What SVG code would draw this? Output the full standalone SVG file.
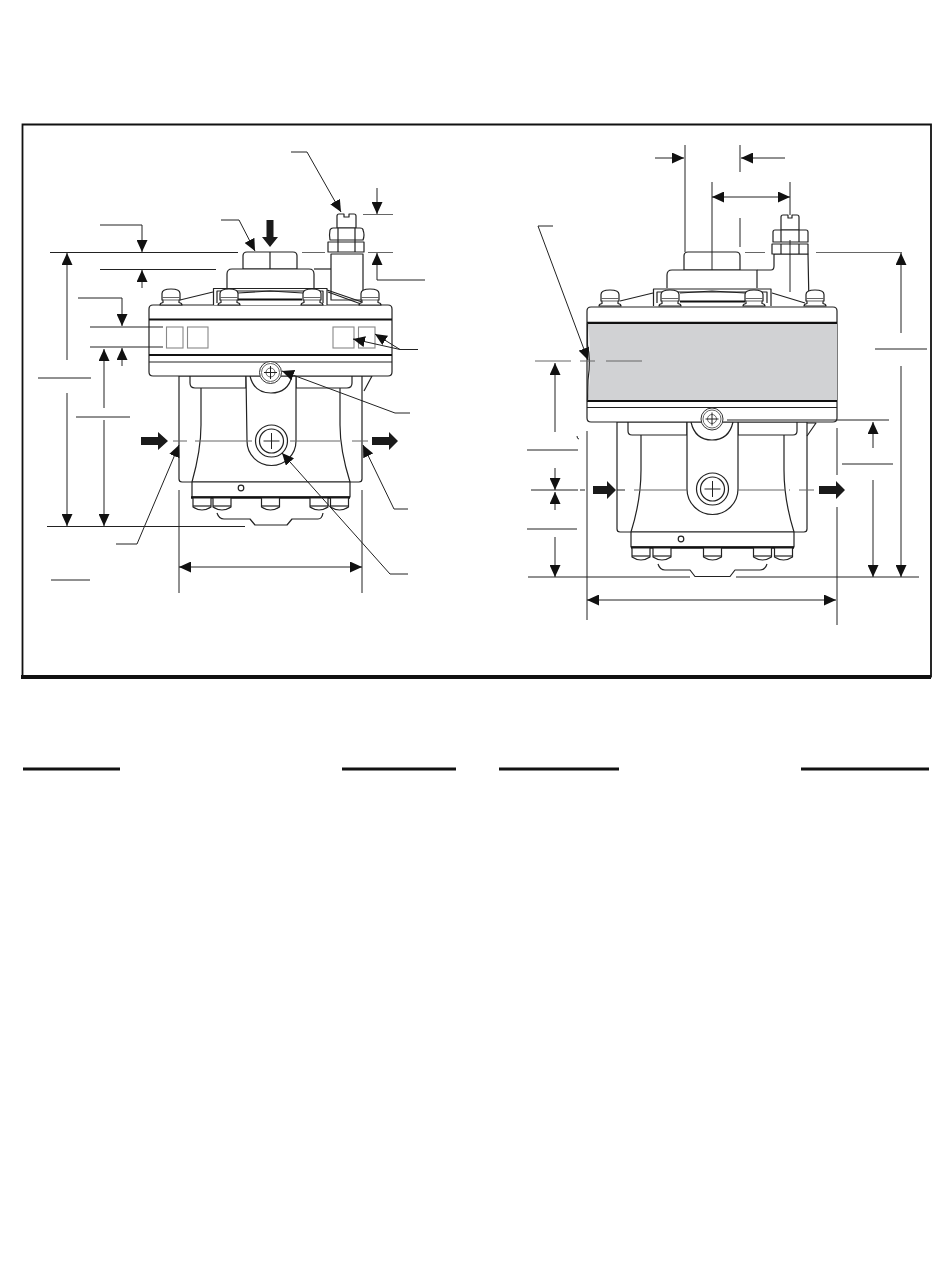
<svg xmlns="http://www.w3.org/2000/svg" width="950" height="1267" viewBox="0 0 950 1267">
<style>
.o{fill:none;stroke:#222;stroke-width:1.2;stroke-linejoin:round}
.w{fill:#fff;stroke:#222;stroke-width:1.2;stroke-linejoin:round}
.t{fill:none;stroke:#111;stroke-width:2.2}
.l{fill:none;stroke:#222;stroke-width:1}
.g{fill:none;stroke:#666;stroke-width:1}
.d{fill:none;stroke:#222;stroke-width:1;marker-end:url(#ah)}
.b{fill:none;stroke:#222;stroke-width:1;marker-start:url(#ahs);marker-end:url(#ah)}
.k{fill:#1a1a1a;stroke:none}
.bx{fill:#fff;stroke:#888;stroke-width:1.1}
</style>
<defs>
<marker id="ah" markerUnits="userSpaceOnUse" markerWidth="13" markerHeight="11" refX="12" refY="5.5" orient="auto"><path d="M0 0L12 5.5L0 11Z" fill="#111"/></marker>
<marker id="ahs" markerUnits="userSpaceOnUse" markerWidth="13" markerHeight="11" refX="0" refY="5.5" orient="auto"><path d="M12 0L0 5.5L12 11Z" fill="#111"/></marker>
<g id="boltTop"><path class="w" d="M-11 6Q-11 4 -8 3.500L-8 1H-9V-5.500Q-9 -10 0 -10Q9 -10 9 -5.500V1H8L8 3.500Q11 4 11 6Z"/><path class="g" d="M-9 -1.500H9M-8 1H8"/></g>
<g id="boltLow"><path class="w" d="M-9 0V9Q0 15 9 9V0Z"/><path class="o" d="M-9 8H9"/></g>
<g id="screw"><circle cx="0" cy="0" r="11" fill="#fff" stroke="#333" stroke-width="1"/><circle class="g" r="9"/><circle class="g" r="4.500"/><path class="l" d="M-6.500 0H6.500M0 -6.500V6.500"/></g>
<g id="port"><circle class="w" r="16"/><circle class="w" r="12"/><path class="l" d="M-8 0H8M0 -8V8"/></g>
</defs>

<g id="frame"><path d="M22.5 124.5H931V676.500H22.5Z" fill="none" stroke="#111" stroke-width="1.800"/><path d="M21 677H931" stroke="#111" stroke-width="4"/></g>
<g id="table-rules" stroke="#111" stroke-width="3"><path d="M23 769H120M342 769H456M499 769H619M801 769H929"/></g>

<g id="left-device">
<path class="w" d="M179 376V479Q179 482 182 482H359Q362 482 362 479V376Z"/>
<path class="o" d="M362 376L372 376L364 391"/>
<path class="w" d="M192 482H350V497H192Z"/>
<path class="o" d="M201 385V425Q201 450 192 482M340 385V425Q340 450 350 482"/>
<path class="w" d="M190 376V383Q190 388 195 388H246V376ZM352 376V383Q352 388 347 388H296V376Z"/>
<path class="w" d="M246 376L247 441A24.500 24.500 0 0 0 296 441L296 376Z"/>
<path class="o" d="M250 376Q254 393 271 393Q288 393 292 376"/>
<use href="#port" x="271.500" y="441"/>
<circle class="o" cx="241" cy="488" r="2.800"/>
<path d="M191 497.500H350" stroke="#111" stroke-width="2.400"/>
<use href="#boltLow" x="202" y="498"/><use href="#boltLow" x="222" y="498"/><use href="#boltLow" x="270.500" y="498"/><use href="#boltLow" x="319" y="498"/><use href="#boltLow" x="339.500" y="498"/>
<path class="w" d="M217 513Q219 519 224 519H250L255 525H287L292 519H318Q322 519 323 513"/>

<path class="w" d="M149 309Q149 305 153 305H388Q392 305 392 309V372Q392 376 388 376H153Q149 376 149 372Z"/>
<path class="t" d="M149 319.500H392M149 355H392"/><path class="o" d="M149 362H392"/>
<rect class="bx" x="166.500" y="327" width="16.500" height="21"/><rect class="bx" x="187.500" y="327" width="20.500" height="21"/>
<rect class="bx" x="333" y="327" width="21" height="21"/><rect class="bx" x="358.500" y="327" width="16.500" height="21"/>
<use href="#screw" x="270.500" y="372.500"/>

<path class="w" d="M243 269V256Q243 252 247 252H293Q297 252 297 256V269Z"/><path class="o" d="M270 252V269"/>
<path class="w" d="M227 288V274Q227 269 232 269H309Q314 269 314 274V288"/>
<path class="w" d="M331 269V300H363V254H331Z"/><path class="o" d="M314 269H331"/>
<path class="w" d="M337 228V216Q337 214 339 214H344L344 217H349L349 214H354Q356 214 356 216V228Z"/>
<path class="w" d="M330 240Q329 235 330 230Q331 228 333 228H360Q363 228 363 230Q365 235 363 240Z"/><path class="o" d="M338 228V240M355 228V240"/>
<path class="w" d="M328 242H364V252H328Z"/><path class="o" d="M338 240V252M355 240V252"/>
<path class="o" d="M180 300L213 292M327 290L362 302M328 292L361 304"/>
<path class="w" d="M213.500 305V288.500H327V305"/><path class="o" d="M217 303V291H323V303"/>
<path class="t" d="M238 299.500H302"/><path class="o" d="M238 293L270 291L303 293"/>
<use href="#boltTop" x="171" y="299"/><use href="#boltTop" x="229" y="299"/><use href="#boltTop" x="312" y="299"/><use href="#boltTop" x="370" y="299"/>
</g>

<g id="right-device">
<path class="w" d="M617 422V529Q617 532 620 532H804Q807 532 807 529V422Z"/>
<path class="o" d="M807 423L816 423L807 436"/>
<path class="w" d="M631 532H794V547H631Z"/>
<path class="o" d="M641 430V470Q641 500 631 532M784 430V470Q784 500 794 532"/>
<path class="w" d="M628 422V431Q628 435 632 435H687V422ZM797 422V431Q797 435 793 435H738V422Z"/>
<path class="w" d="M687 422L687 489A25.500 25.500 0 0 0 738 489L738 422Z"/>
<path class="o" d="M691 422Q695 440 712 440Q729 440 733 422"/>
<use href="#port" x="712.500" y="489"/>
<circle class="o" cx="681" cy="539" r="2.800"/>
<path d="M631 547.500H794" stroke="#111" stroke-width="2.400"/>
<use href="#boltLow" x="641" y="548"/><use href="#boltLow" x="662" y="548"/><use href="#boltLow" x="712.500" y="548"/><use href="#boltLow" x="762.500" y="548"/><use href="#boltLow" x="783.500" y="548"/>
<path class="w" d="M658 564Q660 570 665 570H690L695 576.500H730L735 570H760Q765 570 767 564"/>

<path class="w" d="M587 311Q587 307 591 307H833Q837 307 837 311V418Q837 422 833 422H591Q587 422 587 418Z"/>
<path d="M588 323.500H837V400.500H587.500Q590 385 590 362Q590 340 588 323.500Z" fill="#d1d2d4"/>
<path class="t" d="M587 322.800H837M587 401H837"/><path class="o" d="M587 407.500H837"/>
<path class="o" d="M587.500 323V345Q591 360 588 380L587.500 401"/>
<use href="#screw" x="712" y="419"/>

<path class="w" d="M684 270V256Q684 252 688 252H736Q740 252 740 256V270Z"/>
<path class="w" d="M667 288V275Q667 270 672 270H757Q757 270 757 288"/><path class="o" d="M757 270H771Q774 270 774 266V254"/>
<path class="o" d="M774 254H808L809 305"/>
<path class="w" d="M781 230V217Q781 215 783 215H788L788 218H792L792 215H797Q799 215 799 217V230Z"/>
<path class="w" d="M773 242V232Q773 230 775 230H806Q808 230 808 232V242Z"/><path class="o" d="M781 230V242M799 230V242"/>
<path class="w" d="M772 244H808V254H772Z"/><path class="o" d="M781 244V254M799 244V254"/>
<path class="o" d="M620 301L653 293M772 293L805 303"/>
<path class="w" d="M653.500 306V289H771V306"/><path class="o" d="M657 303V292H767V303"/>
<path class="t" d="M680 301.500H745"/><path class="o" d="M680 293L712 291L745 293"/>
<use href="#boltTop" x="610" y="300"/><use href="#boltTop" x="670" y="300"/><use href="#boltTop" x="754" y="300"/><use href="#boltTop" x="815" y="300"/>
</g>

<g id="flow-arrows">
<path class="k" d="M141 437H158V432L168 441L158 450V445H141ZM372 437H389V432L398 441L389 450V445H372Z"/>
<path class="k" d="M266.500 220H273.500V237H278L270 247L262 237H266.500Z"/>
<path class="k" d="M593 486H607V481L616 490L607 499V494H593ZM819 486H836V481L845 490L836 499V494H819Z"/>
</g>

<g id="connectors">
<path class="g" d="M173 441H187M195 441H252M290 441H340M352 441H368"/>
<path class="g" d="M302 252.500H325M368 252.500H393M363 214.500H393"/>
<path class="l" d="M50 252.500H238M100 269.500H216M90 327H163M90 347H163M47 526.500H245M38 378H91M76 417H130M51 580H90"/>
<path class="l" d="M179 490V593M362 490V593"/>
<path class="b" d="M179 567H362"/>
<path class="d" d="M291 152H307L341 212"/>
<path class="d" d="M377 188V214"/>
<path class="d" d="M425 280H377V253"/>
<path class="d" d="M221 220H239L255 251"/>
<path class="d" d="M100 225H142V252"/>
<path class="d" d="M142 288V270"/>
<path class="d" d="M78 298H122V326"/>
<path class="d" d="M122 366V348"/>
<path class="d" d="M67 360V253"/><path class="d" d="M67 393V526"/>
<path class="d" d="M104 408V349"/><path class="d" d="M104 420V526"/>
<path class="d" d="M116 544H137L179 445"/>
<path class="d" d="M408 509H394L363 445"/>
<path class="d" d="M408 574H390L282 453"/>
<path class="d" d="M410 413H395L282 371"/>
<path class="d" d="M418 349.500H400L353 339"/>
<path class="d" d="M400 349.500L375 334"/>

<path class="g" d="M535 361H571M580 361H595M606 361H642M745 252.500H765M816 252.500H902"/>
<path class="g" d="M634 490H687M737 490H785M789 490H790M799 490H814"/>
<path class="l" d="M580 490H585M617 490H625"/>
<path class="l" d="M685 145V252M740 145V172M740 218V247M712 182V270M790 182V215M790 240V292"/>
<path class="l" d="M528 577H690M736 577H919M727 420H889M587 431V620M837 428V475M837 507V625"/>
<path class="l" d="M527 450H578M531 490H578M527 529H577M875 349H927M842 464H893M577 436Q577 439 579 439"/>
<path class="d" d="M655 158H684"/><path class="d" d="M785 158H741"/>
<path class="b" d="M712 197H790"/>
<path class="b" d="M587 600H836"/>
<path class="d" d="M553 226H538L588 360"/>
<path class="d" d="M555 432V363"/>
<path class="d" d="M555 468V490"/><path class="d" d="M555 510V492"/>
<path class="d" d="M555 537V577"/>
<path class="d" d="M901 333V253"/><path class="d" d="M901 366V577"/>
<path class="d" d="M873 448V422"/><path class="d" d="M873 480V577"/>
</g>
</svg>
